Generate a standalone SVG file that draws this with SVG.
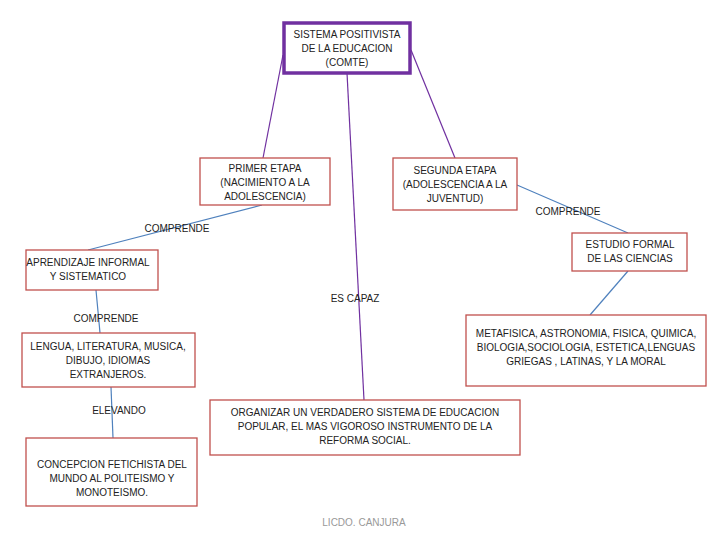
<svg xmlns="http://www.w3.org/2000/svg" width="728" height="546" viewBox="0 0 728 546">
<style>
text{font-family:"Liberation Sans",Arial,sans-serif;font-size:10px;fill:#222;text-anchor:middle}
.b{fill:#fff;stroke:#C0504D;stroke-width:1.3}
.p{stroke:#7030A0;stroke-width:1.2;fill:none}
.l{stroke:#4F81BD;stroke-width:1.2;fill:none}
</style>
<rect width="728" height="546" fill="#fff"/>
<g id="connectors">
<line class="p" x1="283" y1="55" x2="263" y2="158"/>
<line class="p" x1="347" y1="73" x2="364" y2="400"/>
<line class="p" x1="411" y1="50" x2="455" y2="158"/>
<line class="l" x1="262" y1="205" x2="88" y2="250"/>
<line class="l" x1="517" y1="185" x2="628" y2="233"/>
<line class="l" x1="96" y1="290" x2="100" y2="333"/>
<line class="l" x1="111" y1="387" x2="113" y2="438"/>
<line class="l" x1="628" y1="271" x2="590" y2="315"/>
<text x="177" y="232">COMPRENDE</text>
<text x="568" y="215">COMPRENDE</text>
<text x="106" y="322">COMPRENDE</text>
<text x="119" y="414">ELEVANDO</text>
<text x="355" y="302">ES CAPAZ</text>
</g>
<g id="top"><rect x="284" y="23" width="126" height="50" fill="#fff" stroke="#7030A0" stroke-width="3.5"/>
<text x="347" y="38">SISTEMA POSITIVISTA</text><text x="347" y="52">DE LA EDUCACION</text><text x="347" y="66">(COMTE)</text></g>
<g id="primer"><rect class="b" x="200" y="158" width="130" height="47"/>
<text x="265" y="172">PRIMER ETAPA</text><text x="265" y="186">(NACIMIENTO A LA</text><text x="265" y="200">ADOLESCENCIA)</text></g>
<g id="segunda"><rect class="b" x="393" y="158" width="124" height="52"/>
<text x="455" y="174">SEGUNDA ETAPA</text><text x="455" y="188">(ADOLESCENCIA A LA</text><text x="455" y="202">JUVENTUD)</text></g>
<g id="aprendizaje"><rect class="b" x="26" y="250" width="132" height="40"/>
<text x="88" y="266">APRENDIZAJE INFORMAL</text><text x="88" y="280">Y SISTEMATICO</text></g>
<g id="lengua"><rect class="b" x="22" y="333" width="173" height="54"/>
<text x="108" y="350">LENGUA, LITERATURA, MUSICA,</text><text x="108" y="364">DIBUJO, IDIOMAS</text><text x="108" y="378">EXTRANJEROS.</text></g>
<g id="concepcion"><rect class="b" x="26" y="438" width="171" height="68"/>
<text x="112" y="468">CONCEPCION FETICHISTA DEL</text><text x="112" y="482">MUNDO AL POLITEISMO Y</text><text x="112" y="496">MONOTEISMO.</text></g>
<g id="organizar"><rect class="b" x="210" y="400" width="310" height="55"/>
<text x="365" y="416">ORGANIZAR UN VERDADERO SISTEMA DE EDUCACION</text><text x="365" y="430">POPULAR, EL MAS VIGOROSO INSTRUMENTO DE LA</text><text x="365" y="444">REFORMA SOCIAL.</text></g>
<g id="estudio"><rect class="b" x="572" y="233" width="115" height="38"/>
<text x="630" y="248">ESTUDIO FORMAL</text><text x="630" y="262">DE LAS CIENCIAS</text></g>
<g id="metafisica"><rect class="b" x="466" y="315" width="240" height="71"/>
<text x="586" y="337">METAFISICA, ASTRONOMIA, FISICA, QUIMICA,</text><text x="586" y="351">BIOLOGIA,SOCIOLOGIA, ESTETICA,LENGUAS</text><text x="586" y="365">GRIEGAS , LATINAS, Y LA MORAL</text></g>
<text x="364" y="526" style="fill:#999">LICDO. CANJURA</text>
</svg>
